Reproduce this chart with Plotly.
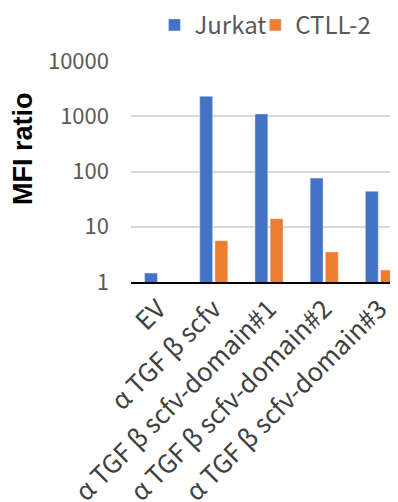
import plotly.graph_objects as go

categories = ["EV", "α TGF β scfv", "α TGF β scfv-domain#1", "α TGF β scfv-domain#2", "α TGF β scfv-domain#3"]
jurkat = [1.45, 2300, 1100, 76, 44]
ctll2 = [None, 5.6, 14, 3.5, 1.65]
y_tickvals = [1, 10, 100, 1000, 10000]
y_ticktext = ["1", "10", "100", "1000", "10000"]

OFF = 8  # page body margin
W, H = 398 - OFF, 502 - OFF
ml, mt, mb, mr = 130.5 - OFF, 60.7 - OFF, 220.3, 0
pw = W - ml - mr
ph = H - mt - mb
cat_w = 55.3
xmax = -0.5 + pw / cat_w

fig = go.Figure()
fig.add_trace(go.Bar(x=categories, y=jurkat, name="Jurkat", marker_color="#4472C4", legend="legend"))
fig.add_trace(go.Bar(x=categories, y=ctll2, name="CTLL-2", marker_color="#ED7D31", legend="legend2"))

font_main = "Noto Sans CJK JP, Noto Sans, sans-serif"

def legend_at(px_x):
    return dict(orientation="h", x=(px_x - OFF - ml) / pw, xanchor="left",
                y=1 + (mt - (25 - OFF)) / ph, yanchor="middle",
                font=dict(size=24, color="#595959", family=font_main),
                itemwidth=30, bgcolor="rgba(0,0,0,0)")

fig.update_layout(
    width=W, height=H,
    margin=dict(l=ml, r=mr, t=mt, b=mb, autoexpand=False),
    paper_bgcolor="white", plot_bgcolor="white",
    barmode="group", bargap=0.45, bargroupgap=0.15,
    font=dict(family=font_main, color="#595959", size=20),
    showlegend=True,
    legend=legend_at(154),
    legend2=legend_at(255),
    xaxis=dict(type="category", range=[-0.5, xmax], tickangle=-45,
               showline=True, linecolor="black", linewidth=2,
               ticks="", showgrid=False,
               tickfont=dict(size=25.5, color="#404040", family=font_main)),
    yaxis=dict(type="log", range=[0, 4], tickvals=y_tickvals, ticktext=y_ticktext,
               showgrid=True, gridcolor="#D9D9D9", gridwidth=1.5,
               showline=False, zeroline=False, ticks="", ticklabelstandoff=21,
               tickfont=dict(size=22, color="#595959", family=font_main)),
    annotations=[dict(text="<b>MFI ratio</b>",
                      x=(23 - OFF - ml) / pw, y=(H - mb - (148 - OFF)) / ph,
                      xref="paper", yref="paper", xanchor="center", yanchor="middle",
                      showarrow=False, textangle=-90,
                      font=dict(family="Liberation Sans, Arial, sans-serif", size=27, color="black"))],
)

fig.write_html("out.html")
